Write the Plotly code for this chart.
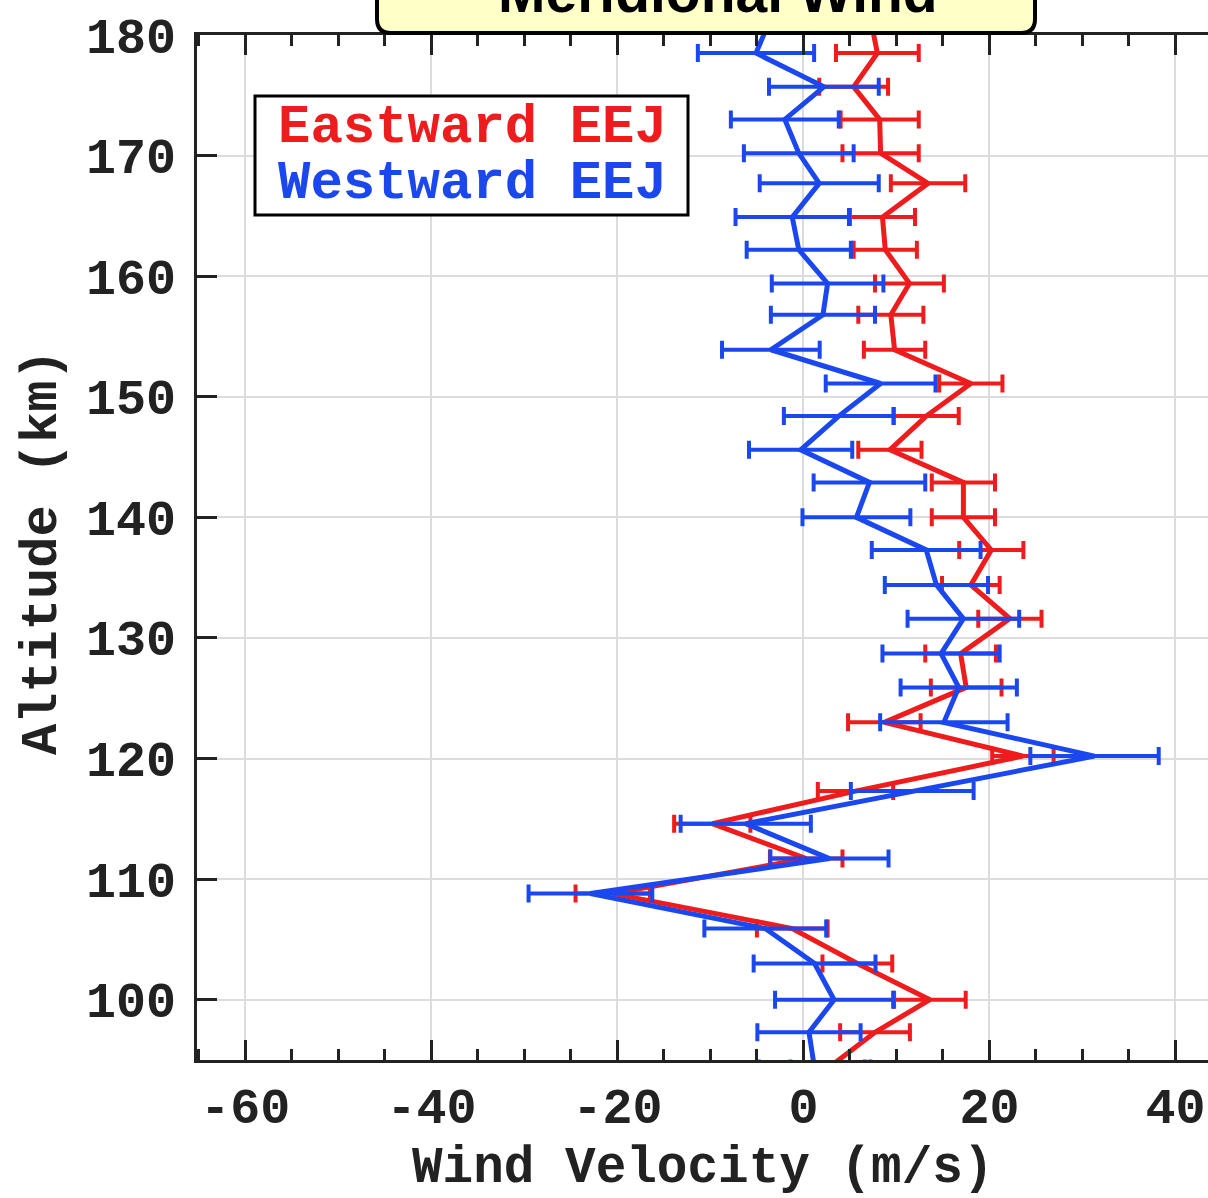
import plotly.graph_objects as go

# Altitude (km) of each sample
altitude = [181.4, 178.5, 175.7, 173.0, 170.2, 167.7, 164.9, 162.2, 159.4, 156.8,
            153.9, 151.1, 148.4, 145.6, 142.9, 140.0, 137.3, 134.4, 131.6, 128.7,
            125.9, 123.0, 120.2, 117.3, 114.6, 111.7, 108.8, 105.9, 103.0, 100.0,
            97.3, 94.3]

# Eastward EEJ meridional wind (m/s) and error
east_wind = [7.2, 7.95, 5.4, 8.2, 8.3, 13.4, 8.5, 8.8, 11.4, 9.4,
             9.8, 18.0, 13.2, 9.3, 17.2, 17.2, 20.2, 18.0, 22.2, 16.9,
             17.5, 8.7, 23.6, 5.6, -9.8, 0.3, -20.5, -1.2, 5.8, 13.6,
             7.7, 2.6]
east_err = [4.0, 4.45, 3.7, 4.2, 4.1, 4.0, 3.5, 3.4, 3.7, 3.5,
            3.3, 3.4, 3.5, 3.4, 3.4, 3.4, 3.45, 3.1, 3.4, 3.8,
            3.8, 3.9, 3.3, 4.05, 4.1, 3.9, 4.0, 3.8, 3.75, 3.85,
            3.75, 4.0]

# Westward EEJ meridional wind (m/s) and error
west_wind = [-3.5, -5.1, 2.2, -2.0, -0.5, 1.7, -1.2, -0.5, 2.6, 2.1,
             -3.5, 8.3, 3.8, -0.3, 7.1, 5.7, 13.2, 14.3, 17.2, 14.8,
             16.7, 15.1, 31.3, 11.7, -6.2, 2.8, -22.9, -4.1, 1.2, 3.3,
             0.6, 1.2]
west_err = [6.0, 6.25, 5.9, 5.8, 5.9, 6.4, 6.1, 5.6, 6.0, 5.6,
            5.25, 5.9, 5.9, 5.55, 6.0, 5.8, 5.85, 5.55, 6.0, 6.3,
            6.25, 6.85, 6.9, 6.6, 7.0, 6.35, 6.65, 6.55, 6.55, 6.35,
            5.55, 6.0]

x_ticks = [-60, -40, -20, 0, 20, 40]
x_tick_labels = ["-60", "-40", "-20", "0", "20", "40"]
y_ticks = [100, 110, 120, 130, 140, 150, 160, 170, 180]

RED = "#ee1c1c"
BLUE = "#1b47ee"
INK = "#222222"
MONO = "Courier New, Liberation Mono, DejaVu Sans Mono, monospace"

fig = go.Figure()
fig.add_trace(go.Scatter(
    x=east_wind, y=altitude, mode="lines", name="Eastward EEJ",
    line=dict(color=RED, width=5),
    error_x=dict(type="data", array=east_err, visible=True, color=RED,
                 thickness=4, width=9),
    showlegend=False))
fig.add_trace(go.Scatter(
    x=west_wind, y=altitude, mode="lines", name="Westward EEJ",
    line=dict(color=BLUE, width=5),
    error_x=dict(type="data", array=west_err, visible=True, color=BLUE,
                 thickness=4, width=9),
    showlegend=False))

L, R, T, B = 197, 0, 35, 138
W, H = 1208, 1198
PW, PH = W - L - R, H - T - B


def px(xp):
    return (xp - L) / PW


def py(yp):
    return (H - B - yp) / PH


fig.update_layout(
    width=W, height=H,
    margin=dict(l=L, r=R, t=T, b=B, pad=0),
    paper_bgcolor="white", plot_bgcolor="white",
    font=dict(family=MONO, color=INK),
    xaxis=dict(
        range=[-65.2, 43.5], tickvals=x_ticks, ticktext=x_tick_labels,
        ticks="inside", ticklen=20, tickwidth=2.5, tickcolor=INK,
        minor=dict(dtick=5, ticks="inside", ticklen=11, tickwidth=2.5,
                   tickcolor=INK, showgrid=False),
        showline=True, linecolor=INK, linewidth=3, mirror="ticks",
        showgrid=True, gridcolor="#dcdcdc", gridwidth=2, zeroline=False,
        tickfont=dict(family=MONO, size=50, color=INK, weight="bold"),
        ticklabelstandoff=0,
    ),
    yaxis=dict(
        range=[95, 180], tickvals=y_ticks,
        ticks="inside", ticklen=20, tickwidth=2.5, tickcolor=INK,
        showline=True, linecolor=INK, linewidth=3, mirror=False,
        showgrid=True, gridcolor="#dcdcdc", gridwidth=2, zeroline=False,
        tickfont=dict(family=MONO, size=50, color=INK, weight="bold"),
        ticklabelstandoff=8,
    ),
    yaxis2=dict(
        range=[95, 180], tickvals=y_ticks, overlaying="y", side="right",
        ticks="inside", ticklen=13, tickwidth=2.5, tickcolor=INK,
        showline=False, showgrid=False, zeroline=False, showticklabels=False,
    ),
)

# Title box (rounded bottom corners, clipped at top of page)
x0, x1 = px(377), px(1035)
y0 = py(33)
ytop = 1.2
rx, ry = 14 / PW, 14 / PH
path = (f"M {x0},{ytop} L {x0},{y0 + ry} Q {x0},{y0} {x0 + rx},{y0} "
        f"L {x1 - rx},{y0} Q {x1},{y0} {x1},{y0 + ry} L {x1},{ytop} Z")
fig.add_shape(type="path", path=path, xref="paper", yref="paper",
              fillcolor="#ffffc8", line=dict(color="black", width=4),
              layer="above")
fig.add_annotation(text="Meridional Wind", xref="paper", yref="paper",
                   x=px(718), y=py(-8), xanchor="center", yanchor="middle",
                   showarrow=False,
                   font=dict(family="Arial, Liberation Sans, sans-serif",
                             size=57, color="black", weight="bold"))

# Legend box
fig.add_shape(type="rect", xref="paper", yref="paper",
              x0=px(255), x1=px(688), y0=py(215), y1=py(96),
              fillcolor="white", line=dict(color="black", width=3),
              layer="above")
fig.add_annotation(text="Eastward EEJ", xref="paper", yref="paper",
                   x=px(472), y=py(128), xanchor="center", yanchor="middle",
                   showarrow=False,
                   font=dict(family=MONO, size=54, color=RED, weight="bold"))
fig.add_annotation(text="Westward EEJ", xref="paper", yref="paper",
                   x=px(472), y=py(183), xanchor="center", yanchor="middle",
                   showarrow=False,
                   font=dict(family=MONO, size=54, color=BLUE, weight="bold"))

# Axis titles
fig.add_annotation(text="Wind Velocity (m/s)", xref="paper", yref="paper",
                   x=px(703), y=py(1168), xanchor="center", yanchor="middle",
                   showarrow=False,
                   font=dict(family=MONO, size=51, color=INK, weight="bold"))
fig.add_annotation(text="Altitude (km)", xref="paper", yref="paper",
                   x=px(42), y=py(552), xanchor="center", yanchor="middle",
                   textangle=-90, showarrow=False,
                   font=dict(family=MONO, size=52, color=INK, weight="bold"))

fig.write_html("out.html")
